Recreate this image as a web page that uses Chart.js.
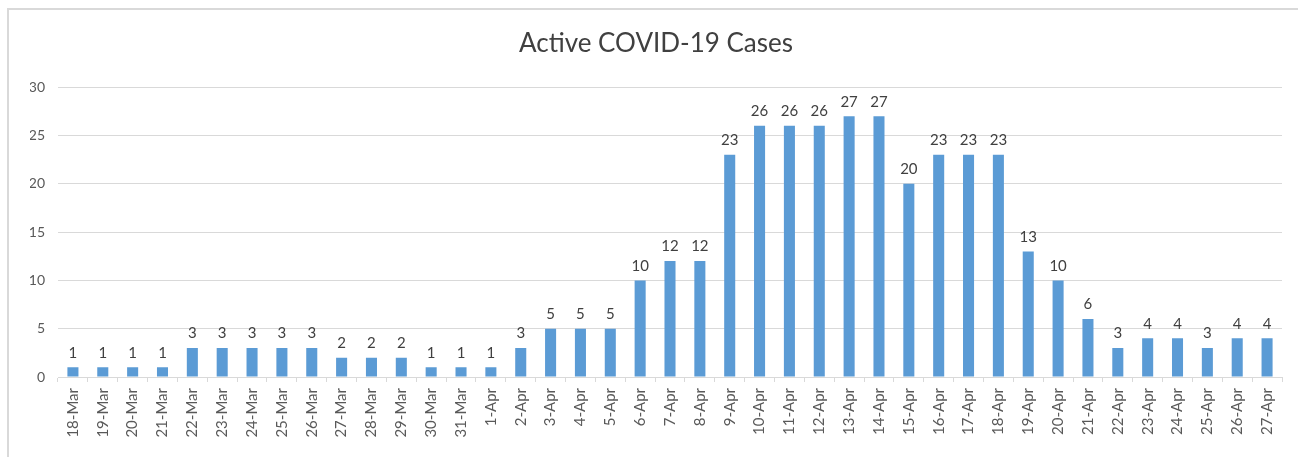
<!DOCTYPE html>
<html>
<head>
<meta charset="utf-8">
<script src="https://cdn.jsdelivr.net/npm/chart.js@4/dist/chart.umd.min.js"></script>
<style>
html,body{margin:0;padding:0;background:#fff;}
#frame{position:absolute;left:7px;top:8px;width:1295px;height:460px;border:2px solid #d9d9d9;box-sizing:border-box;}
#wrap{position:absolute;left:0;top:0;width:1298px;height:457px;}
</style>
</head>
<body>
<div id="frame"></div>
<div id="wrap"><canvas id="c" width="1298" height="457"></canvas></div>
<script>
const categories = ["18-Mar","19-Mar","20-Mar","21-Mar","22-Mar","23-Mar","24-Mar","25-Mar","26-Mar","27-Mar","28-Mar","29-Mar","30-Mar","31-Mar","1-Apr","2-Apr","3-Apr","4-Apr","5-Apr","6-Apr","7-Apr","8-Apr","9-Apr","10-Apr","11-Apr","12-Apr","13-Apr","14-Apr","15-Apr","16-Apr","17-Apr","18-Apr","19-Apr","20-Apr","21-Apr","22-Apr","23-Apr","24-Apr","25-Apr","26-Apr","27-Apr"];
const activeCases = [1,1,1,1,3,3,3,3,3,2,2,2,1,1,1,3,5,5,5,10,12,12,23,26,26,26,27,27,20,23,23,23,13,10,6,3,4,4,3,4,4];
const yTicks = [0,5,10,15,20,25,30];
const chartTitle = "Active COVID-19 Cases";

const FONT = "Lato, 'Open Sans', sans-serif";

const labelPlugin = {
  id: 'barLabels',
  afterDatasetsDraw(chart) {
    const ctx = chart.ctx;
    const meta = chart.getDatasetMeta(0);
    ctx.save();
    ctx.font = "15px " + FONT;
    ctx.fillStyle = "#404040";
    ctx.textAlign = "center";
    ctx.textBaseline = "bottom";
    meta.data.forEach((el, i) => {
      ctx.fillText(String(chart.data.datasets[0].data[i]), el.x, el.y - 7);
    });
    ctx.restore();
  }
};

new Chart(document.getElementById('c'), {
  type: 'bar',
  data: {
    labels: categories,
    datasets: [{
      data: activeCases,
      backgroundColor: '#5b9bd5',
      borderWidth: 0,
      barPercentage: 0.37,
      categoryPercentage: 1.0
    }]
  },
  options: {
    responsive: false,
    animation: false,
    devicePixelRatio: 1,
    layout: { padding: { left: 30, right: 16, top: 0, bottom: 0 } },
    plugins: {
      legend: { display: false },
      tooltip: { enabled: false },
      title: {
        display: true,
        text: chartTitle,
        color: '#404040',
        font: { family: FONT, size: 26, weight: 'normal', lineHeight: 1.2 },
        padding: { top: 28, bottom: 28 }
      }
    },
    scales: {
      x: {
        afterFit(axis) { axis.height = 80; },
        grid: { display: true, drawOnChartArea: false, drawTicks: true, tickLength: 5, color: '#d9d9d9' },
        border: { color: '#d9d9d9' },
        ticks: {
          color: '#595959',
          font: { family: FONT, size: 15 },
          maxRotation: 90, minRotation: 90,
          autoSkip: false,
          padding: 6
        }
      },
      y: {
        min: 0, max: 30,
        afterFit(axis) { axis.width = 28; },
        afterBuildTicks(axis) { axis.ticks = yTicks.map(v => ({ value: v })); },
        grid: { color: '#d9d9d9', drawTicks: false },
        border: { display: false },
        ticks: {
          color: '#595959',
          font: { family: FONT, size: 14 },
          padding: 13
        }
      }
    }
  },
  plugins: [labelPlugin]
});
</script>
</body>
</html>
